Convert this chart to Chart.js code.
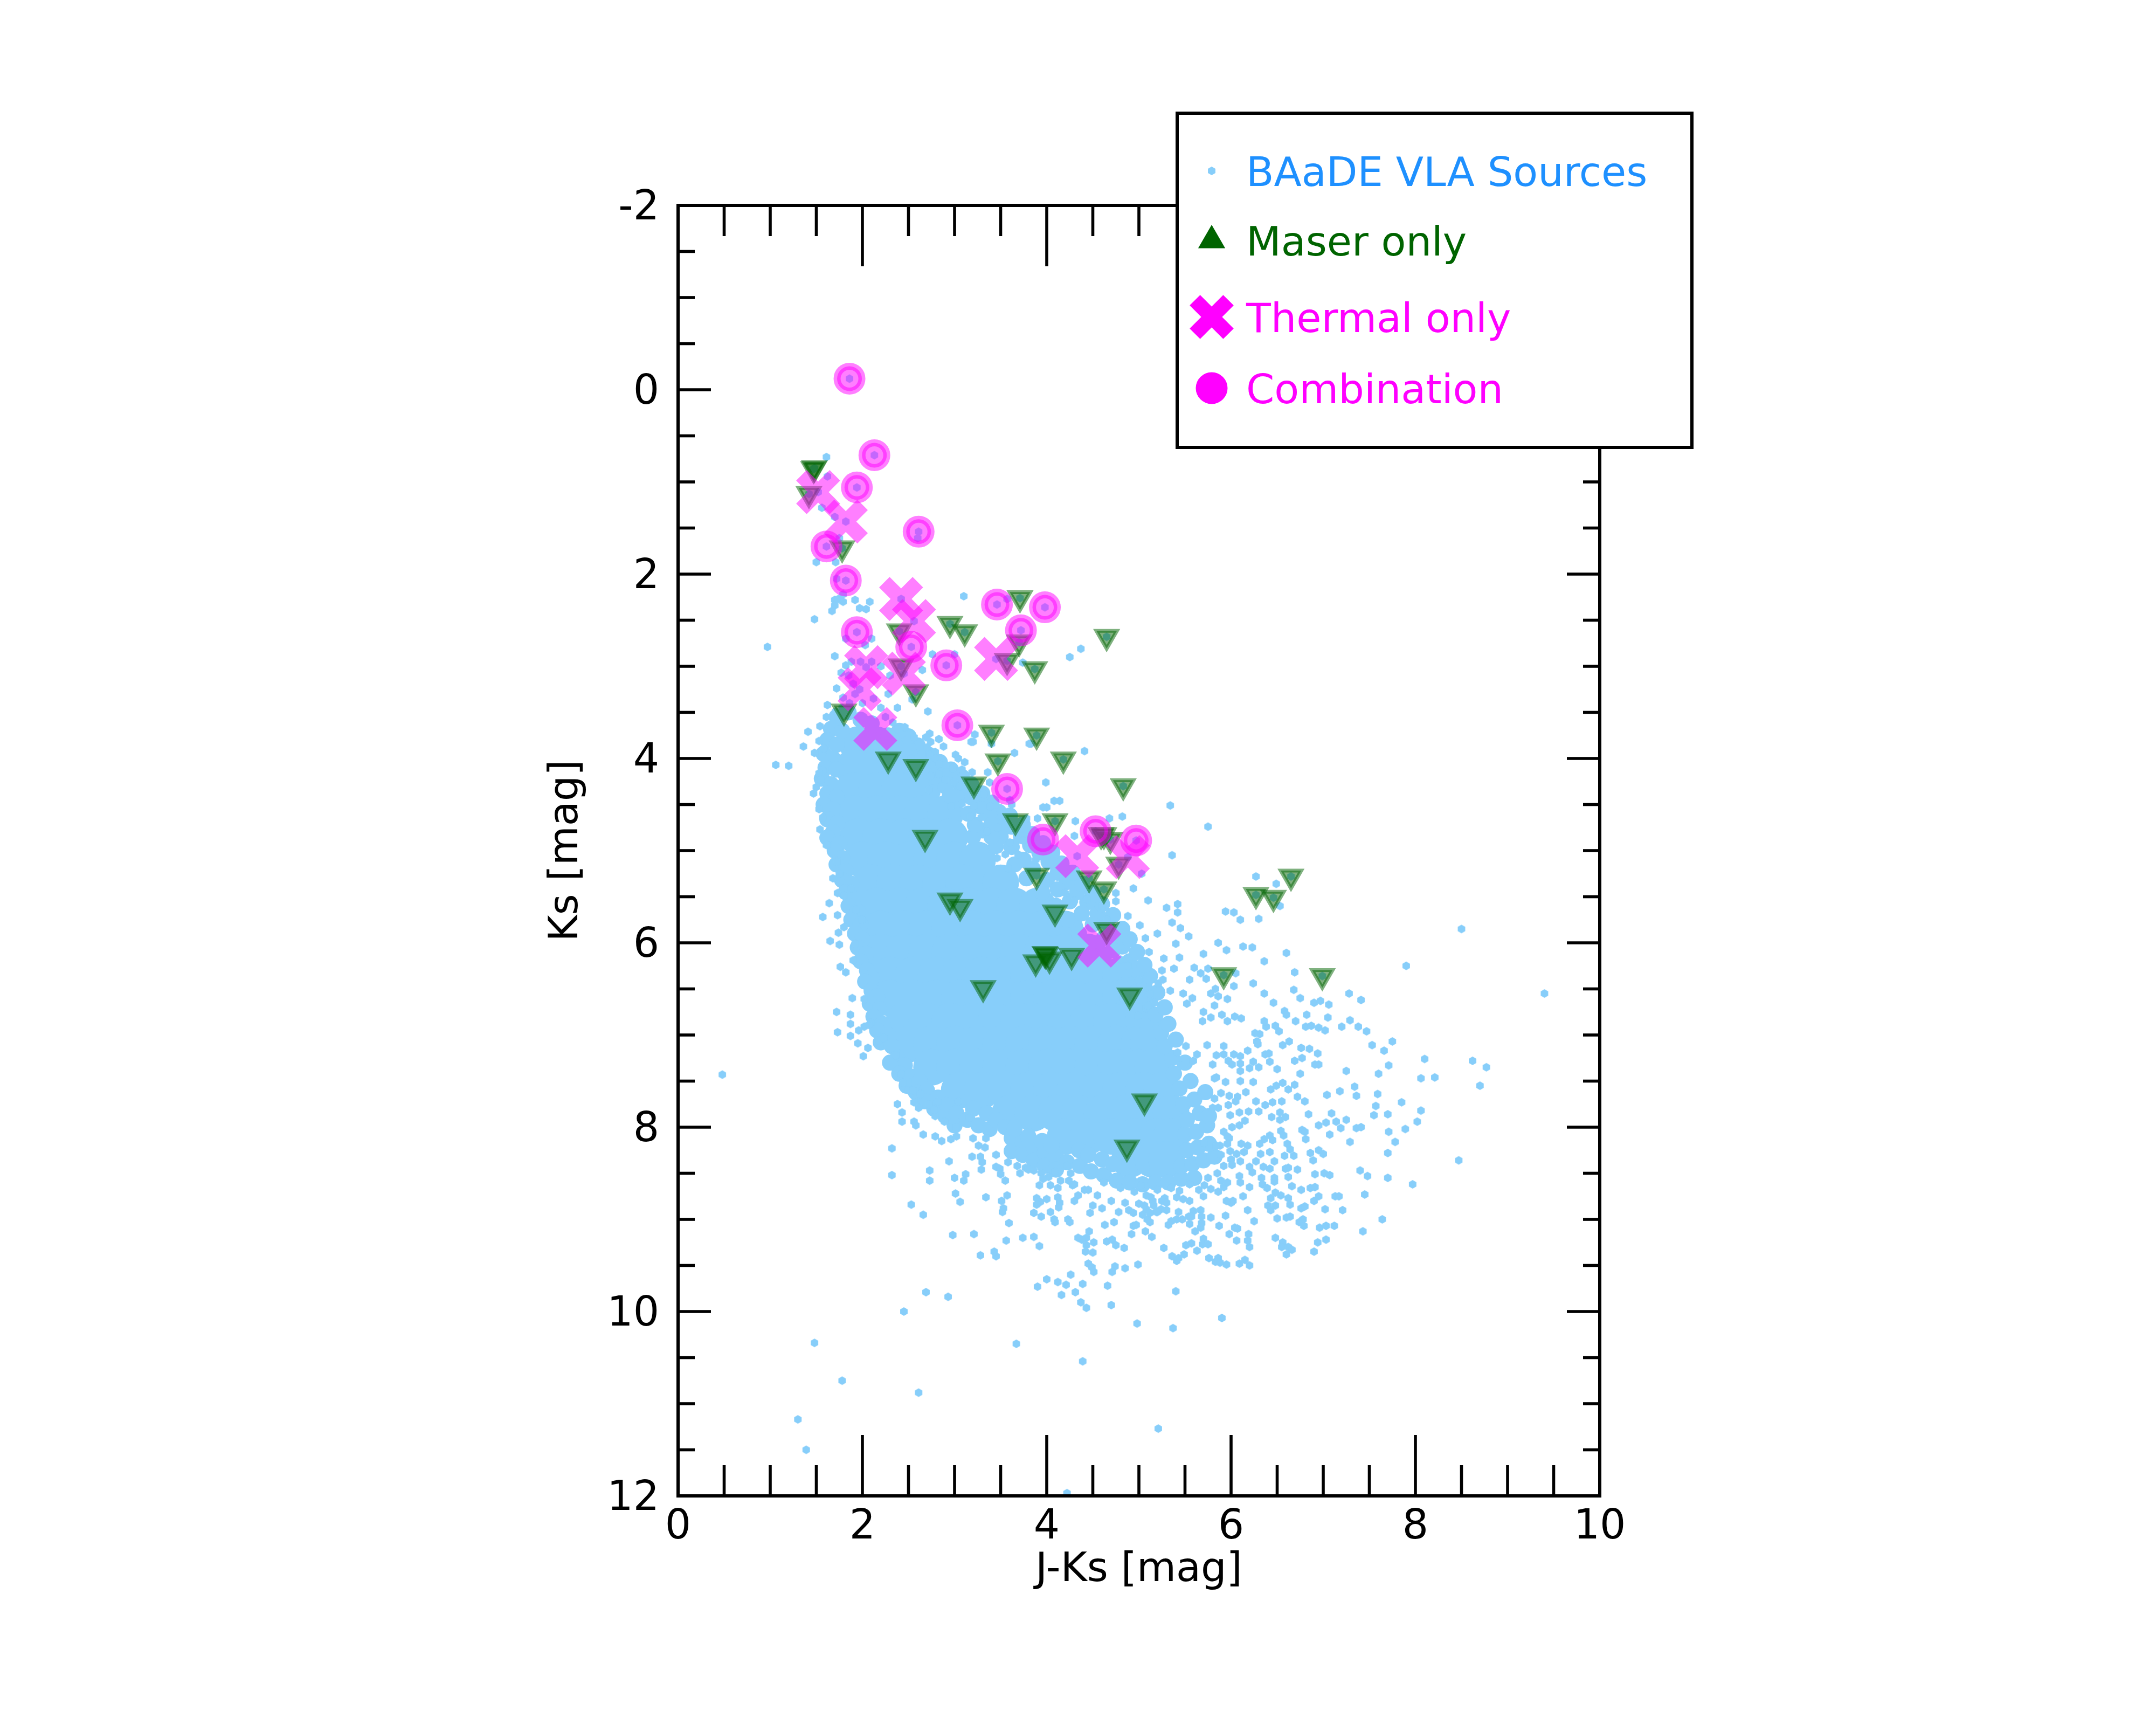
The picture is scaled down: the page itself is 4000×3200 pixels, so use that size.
<!DOCTYPE html>
<html>
<head>
<meta charset="utf-8">
<title>BAaDE colour-magnitude diagram</title>
<script src="https://cdn.jsdelivr.net/npm/chart.js@4/dist/chart.umd.js"></script>
<style>
  html, body { margin: 0; padding: 0; background: #fff; }
  canvas { display: block; }
</style>
</head>
<body>
<canvas id="cmd" width="4000" height="3200"></canvas>
<script>
const xLabelTitle = "J-Ks [mag]";
const yLabelTitle = "Ks [mag]";
const legendLabels = ["BAaDE VLA Sources", "Maser only", "Thermal only", "Combination"];

const xMajorTicks = [2, 4, 6, 8];
const xMinorTicks = [0.5, 1, 1.5, 2.5, 3, 3.5, 4.5, 5, 5.5, 6.5, 7, 7.5, 8.5, 9, 9.5];
const yMajorTicks = [0, 2, 4, 6, 8, 10];
const yMinorTicks = [-1.5, -1, -0.5, 0.5, 1, 1.5, 2.5, 3, 3.5, 4.5, 5, 5.5, 6.5, 7, 7.5, 8.5, 9, 9.5, 10.5, 11, 11.5];
const yTickLabels = [-2, 0, 2, 4, 6, 8, 10, 12];

const maser = [[1.47,.86],[1.48,.85],[1.42,1.13],[1.78,1.72],[2.95,2.54],[3.11,2.63],[2.4,2.62],[4.65,2.68],[3.71,2.26],[3.7,2.74],[3.57,2.94],[3.87,3.03],[2.42,3],[2.58,3.28],[1.8,3.49],[2.28,4.01],[2.58,4.09],[3.4,3.72],[3.89,3.75],[3.47,4.03],[4.18,4.01],[3.21,4.28],[4.83,4.3],[3.66,4.68],[4.09,4.68],[2.68,4.86],[4.59,4.83],[4.62,4.83],[4.69,4.88],[4.78,5.15],[3.89,5.27],[4.46,5.3],[4.62,5.42],[6.65,5.28],[6.27,5.48],[6.46,5.51],[2.95,5.54],[3.06,5.61],[4.09,5.67],[4.65,5.86],[3.88,6.21],[3.98,6.12],[3.99,6.13],[4.03,6.18],[4.27,6.14],[5.92,6.35],[6.99,6.36],[3.31,6.49],[4.9,6.57],[5.06,7.72],[4.87,8.22]];
const thermal = [[1.52,1.11],[1.82,1.43],[2.42,2.27],[2.56,2.51],[3.45,2.92],[2.04,3.01],[2.45,3.08],[1.97,3.25],[2.14,3.68],[4.33,5.06],[4.88,5.07],[4.57,6.03]];
const combination = [[1.86,-.12],[2.13,.71],[1.94,1.06],[2.61,1.54],[1.61,1.7],[1.82,2.07],[3.46,2.33],[3.98,2.36],[1.94,2.63],[3.72,2.61],[2.53,2.79],[2.91,2.99],[3.03,3.64],[3.57,4.33],[3.96,4.88],[4.53,4.79],[4.97,4.89]];

// upper giant branch and the stragglers around it
const sourcesUpper = [[1.61,.73],[1.62,.94],[1.56,1.28],[1.7,1.38],[1.5,1.87],[1.71,1.87],[1.72,2.05],[1.7,2.28],[1.7,2.34],[1.79,2.3],[1.92,2.28],[1.97,2.37],[2.04,2.38],[1.67,2.4],[1.48,2.49],[2.6,1.61],[3.1,2.24],[3.57,2.27],[1.75,1.61],[.97,2.79],[1.74,2.27],[1.79,2.22],[2.08,2.3],[2.1,2.7],[1.82,2.7],[2.03,2.77],[1.7,2.89],[1.82,2.99],[1.77,3.07],[1.9,3.19],[1.72,3.24],[1.79,3.34],[2.76,2.87],[3,2.87],[2.65,3.04],[2.54,3.36],[2.71,3.49],[2.38,3.45],[4.37,2.81],[4.25,2.9],[3.74,2.96],[2.46,3.66],[2.56,3.77],[2.38,3.68],[2.33,3.61],[2.73,3.73],[2.83,3.79],[2.7,3.88],[3.18,3.82],[3.22,3.74],[3.81,3.84],[3.65,3.94],[4.41,3.92],[3.99,4.26],[5.34,4.51],[5.75,4.74],[4.82,4.63],[5.36,5.05],[4.94,5.41],[5.03,5.25],[5.1,5.54],[1.85,3.1],[1.92,3.3],[2,3.4],[2.12,3.35],[2.2,3.45],[1.86,3.4],[1.78,3.45],[2.28,3.3],[2.3,3.1],[2.2,3],[1.98,2.95],[2.1,2.95],[1.88,2.95],[2.25,3.55]];
// left edge of the cloud
const sourcesLeft = [[1.2,4.08],[1.06,4.07],[1.36,3.87],[1.48,3.94],[1.41,3.71],[1.54,3.65],[1.61,3.55],[1.71,3.49],[1.75,3.6],[1.62,3.42],[1.53,3.81],[1.58,3.89],[1.57,4.13],[1.53,4.16],[1.5,4.31],[1.47,4.38],[1.55,4.23],[1.53,4.55],[1.57,4.64],[1.54,4.77],[1.61,4.94],[1.72,5.12],[1.75,5.25],[1.68,5.3],[1.73,5.46],[1.64,5.57],[1.57,5.72],[1.73,5.7],[1.8,5.83],[1.74,5.89],[1.65,5.98],[1.75,6.02],[1.92,6.01],[1.76,6.26],[1.82,6.32],[1.9,6.19],[1.89,6.6],[1.72,6.75],[1.87,6.78],[1.87,6.88],[2.02,6.91],[2.09,6.87],[1.73,6.97],[1.87,7.01],[1.95,7.09],[2.06,7.14],[1.96,6.95],[2.18,7.06],[1.8,5.49],[1.88,5.41],[1.93,5.64],[1.99,5.75],[2.02,6.61],[2.07,6.69]];
// top right edge of the cloud
const sourcesEdge = [[2.74,3.82],[2.69,3.77],[2.79,3.93],[2.88,3.87],[2.73,3.96],[2.68,4.05],[2.53,4],[2.79,4],[3.01,3.96],[3.04,4],[3.11,4.04],[3.08,4.12],[2.98,4.11],[2.9,4.07],[2.83,4.06],[2.74,4.19],[2.83,4.17],[2.9,4.23],[2.72,4.34],[3,4.26],[3.06,4.3],[3.19,4.15],[3.36,4.15],[3.38,4.26],[3.32,4.39],[3.39,4.52],[3.08,4.49],[3.21,4.51],[2.96,4.52],[3.29,4.64],[3.17,4.63],[3.83,3.84],[3.2,3.82],[3.4,3.84],[4.14,4.46],[4.08,4.46],[4,4.53],[3.96,4.53],[3.62,4.5],[3.6,4.45],[3.78,4.65],[3.9,4.65],[4.31,4.68],[4.68,4.65],[4.3,4.84],[4.75,5.46],[4.75,5.55],[4.88,5.71],[5.01,5.81],[4.44,5.53],[4.6,5.6],[4.65,5.75],[3.69,5.04],[3.8,4.97],[3.88,5.1],[3.55,5.04],[3.46,5.08],[3.58,5.19],[3.99,5.35],[4.2,5.46],[4.1,5.55],[4.3,5.54],[3.74,4.89],[3.6,4.91],[3.47,4.75],[3.35,4.79],[5.21,6.44],[5.12,6.56],[4.95,6.5],[4.83,6.6],[5.08,6.71],[5.17,6.65],[4.99,6.79],[5.1,6.68],[4.88,6.25],[5,6.4],[4.8,6.18]];
// lower edge, read from the bottom left of the cloud
const sourcesLower = [[2.01,7.23],[2.23,7.03],[2.07,6.89],[2.36,7.22],[2.42,7.42],[2.44,7.52],[2.5,7.6],[2.55,7.6],[2.63,7.64],[2.56,7.73],[2.61,7.79],[2.72,7.75],[2.38,7.75],[2.43,7.84],[2.43,7.94],[2.56,7.94],[2.58,7.98],[2.66,8.08],[2.79,8.1],[2.86,8.15],[2.96,8.13],[3.02,8.1],[3.02,8],[2.89,7.94],[2.79,7.88],[2.78,7.81],[2.82,7.72],[3.04,7.72],[3.16,7.9],[3.26,8.2],[3.34,8.12],[2.32,8.23],[2.94,8.37],[3.19,8.32],[3.28,8.32],[3.3,8.38],[3.29,8.46],[3.45,8.43],[3.49,8.45],[3.5,8.51],[3.55,8.58],[3.12,8.51],[3.1,8.58],[3,8.55],[2.73,8.47],[2.73,8.58],[2.32,8.52],[3.01,8.72],[3.06,8.81],[3.34,8.76],[3.57,8.74],[3.51,8.8],[3.53,8.88],[3.52,8.92],[2.53,8.84],[2.66,8.95],[3.59,9.04],[3.21,9.16],[2.98,9.17],[3.56,9.23],[3.74,9.2],[3.86,9.19],[3.92,9.29],[3.45,9.4],[3.43,9.35],[3.28,9.39]];
const sourcesLowerMid = [[3.92,8.63],[3.86,8.47],[3.94,8.5],[4.02,8.54],[4.09,8.48],[3.71,8.5],[3.77,8.44],[4.22,8.42],[4.26,8.5],[4.24,8.58],[4.28,8.63],[4.34,8.74],[4.41,8.68],[4.04,8.63],[4.12,8.66],[4.12,8.76],[3.89,8.77],[3.93,8.81],[3.89,8.84],[4,8.78],[4.14,8.82],[4.13,8.87],[4.04,8.92],[3.86,8.93],[3.94,8.97],[4.08,9],[4.09,9.03],[4.23,9],[4.25,9.03],[4.47,8.93],[4.73,9.03],[4.63,9.06],[4.46,9.13],[4.43,9.2],[4.51,9.25],[4.65,9.24],[4.38,9.22],[4.34,9.2],[4.43,9.28],[4.42,9.35],[4.5,9.36],[4.71,9.22],[4.75,9.28],[4.84,9.31],[5.09,9],[4.94,9.07],[4.89,8.9],[4.92,9.16],[5.14,9.19],[4.45,9.48],[4.49,9.52],[4.74,9.51],[4.85,9.53],[4.99,9.49],[4.51,9.57],[4.71,9.57],[4.66,9.72],[4.26,9.6],[4.12,9.68],[4.31,9.79],[4.21,9.71],[4.39,9.7],[4.16,9.82],[4.43,9.96],[4.7,9.93],[4.37,9.9],[3.9,9.73],[4,9.65],[2.45,10],[2.69,9.79],[2.93,9.84],[4.98,10.13],[5.37,10.18],[5.9,10.07],[5.4,9.78]];
// just under the solid part of the cloud
const sourcesBottomEdge = [[3.2,8.12],[3.33,8.22],[3.45,8.3],[3.58,8.38],[3.68,8.42],[3.8,8.46],[3.96,8.56],[4.15,8.58],[4.3,8.62],[4.45,8.68],[4.55,8.74],[4.7,8.8],[4.85,8.82],[5,8.83],[5.15,8.8],[5.28,8.77],[5.41,8.76],[5.44,8.69],[5.02,8.63],[5.08,8.74],[5.13,8.76],[5.24,8.89],[5.19,8.92],[5.08,8.89],[5.04,8.95],[4.94,8.93],[4.97,9.06],[5.07,9.13],[5.12,9.03],[5.32,9.06],[5.35,9.02],[5.47,9],[5.54,8.97],[5.55,9.05],[5.59,8.91],[5.43,8.92],[5.75,8.55],[5.85,8.5],[5.92,8.42],[6,8.35],[5.88,8.2],[5.98,8.12],[4.6,8.88],[4.78,8.92],[4.5,8.85],[4.3,8.8],[4.62,8.6],[4.8,8.66],[4.95,8.7],[5.2,8.68],[5.35,8.66],[5.55,8.62],[5.65,8.68]];
// right hand wing of the cloud
const sourcesRight = [[5.74,7.11],[5.92,7.12],[5.63,7.21],[5.84,7.22],[5.92,7.21],[6.03,7.21],[6.1,7.23],[6.18,7.17],[5.97,7.28],[6.01,7.32],[6.1,7.31],[6.1,7.39],[6.24,7.29],[6.2,7.36],[6.3,7.35],[6.37,7.21],[6.41,7.2],[6.42,7.29],[6.5,7.37],[6.26,6.98],[6.31,6.99],[6.28,7.07],[6.29,7.1],[6.52,6.96],[6.56,7.11],[6.63,7.07],[6.76,7.14],[6.85,7.15],[6.94,7.2],[6.77,7.25],[6.69,7.28],[6.91,7.32],[6.95,7.32],[6.75,7.42],[7.25,7.39],[7.6,7.42],[7.71,7.33],[7.66,7.17],[7.53,7.11],[7.75,7.07],[7.47,6.96],[7.38,6.91],[7.2,6.91],[6.81,6.91],[6.87,6.9],[6.38,6.91],[8.1,7.26],[8.62,7.28],[8.77,7.35],[8.06,7.47],[8.21,7.46],[8.7,7.55],[7.34,7.56],[7.18,7.61],[7.04,7.65],[7.36,7.66],[7.59,7.64],[7.85,7.73],[7.57,7.77],[7.55,7.87],[7.7,7.86],[8.06,7.82],[8.02,7.94],[6.84,7.86],[7.09,7.85],[7.25,7.92],[7.14,7.94],[7.19,8.01],[7.03,7.95],[6.95,7.98],[7.41,8],[7.36,8.01],[7.71,8.05],[7.89,8.02],[7.78,8.16],[7.29,8.16],[7.07,8.08],[6.77,8.03],[6.8,8.05],[6.81,8.13],[6.54,8.04],[6.57,8.09],[6.42,8.09],[6.45,8.14],[6.36,8.13],[6.31,8.18],[6.61,8.18],[6.64,8.24],[6.86,8.28],[6.95,8.25],[7,8.29],[7.7,8.28],[8.47,8.36],[6.89,8.36],[6.68,8.31],[6.58,8.31],[6.47,8.37],[6.42,8.27],[6.32,8.29],[6.27,8.37],[6.35,8.43],[6.42,8.45],[6.62,8.44],[6.72,8.46],[6.59,8.45],[7.4,8.47],[7.48,8.53],[7.7,8.55],[7.97,8.62],[7.01,8.5],[7.07,8.52],[6.91,8.51],[6.62,8.54],[6.47,8.55],[6.47,8.59],[6.33,8.55],[6.34,8.62],[6.39,8.66],[6.66,8.64],[6.76,8.68],[6.86,8.66],[6.91,8.65],[7.45,8.73],[7.13,8.75],[7.17,8.75],[6.95,8.75],[6.9,8.8],[6.48,8.71],[6.54,8.74],[6.62,8.77],[6.64,8.84],[6.43,8.77],[7.21,8.9],[7.02,8.89],[6.76,8.88],[6.8,8.86],[6.48,8.85],[6.4,8.85],[6.43,8.9],[6.5,8.99],[6.6,8.98],[6.64,8.97],[6.78,9],[6.74,9.03],[6.79,9.07],[6.96,9.09],[7.03,9.07],[7.12,9.07],[7.64,9],[7.43,9.13],[6.94,9.25],[7.03,9.22],[6.9,9.35],[6.48,9.2],[6.56,9.25],[6.55,9.3],[6.6,9.38],[6.62,9.3],[6.66,9.33],[6.2,9.5],[6.09,9.48],[6.15,9.44],[6.2,9.3],[6.18,9.23],[5.98,9.16],[6.19,9.16],[6.06,9.23],[6.04,9.09],[6.07,9.1],[5.7,9.21],[5.69,9.27],[5.63,9.34],[5.57,9.26],[5.51,9.28],[5.49,9.38],[5.43,9.42],[5.36,9.4],[5.27,9.31],[5.41,9.45],[5.76,9.42],[5.86,9.42],[5.83,9.46],[5.88,9.47],[5.95,9.49],[5.75,9.27],[5.67,9.09],[5.61,9.13],[5.68,9.04],[5.57,8.97],[5.41,9],[5.3,8.9],[5.67,8.9],[5.68,8.97],[5.78,8.98],[5.87,9.07],[5.94,8.96],[5.7,8.75],[5.86,8.7],[5.78,8.67],[5.71,8.63],[5.89,8.58],[5.92,8.65],[6.1,8.6],[6.2,8.65],[6.13,8.75],[6.02,8.8],[6,8.82],[5.95,8.8],[6.18,8.9],[6.25,9.02]];
// the middle band of the right wing and the far outliers
const sourcesMiddle = [[5.82,7.47],[5.94,7.51],[6.1,7.5],[6.24,7.51],[6.16,7.62],[6.07,7.67],[5.98,7.66],[5.89,7.63],[5.82,7.69],[6.27,7.72],[6.43,7.59],[6.49,7.55],[6.56,7.52],[6.62,7.59],[6.69,7.54],[6.72,7.67],[6.8,7.72],[6.55,7.72],[6.45,7.73],[6.44,7.89],[6.53,7.92],[6.59,7.89],[6.53,7.84],[6.37,7.76],[6.3,7.83],[6.19,7.83],[6.09,7.84],[5.99,7.87],[5.86,7.79],[5.8,7.79],[5.97,7.76],[6.05,7.72],[6.15,7.93],[6.09,7.98],[6.01,8],[5.92,8.05],[5.96,8.1],[5.96,8.18],[5.84,8.2],[5.71,8.17],[6.11,8.18],[6.18,8.2],[6.14,8.27],[6.06,8.29],[5.99,8.26],[5.89,8.3],[6.1,8.37],[6.01,8.41],[6.2,8.43],[6.23,8.49],[6.09,8.53],[5.96,8.6],[5.84,7.46],[5.8,7.32],[5.42,7.19],[5.51,7.12],[5.59,7.28],[5.45,7.33],[5.25,8.8],[5.16,8.85],[5.3,8.82],[5.48,8.78],[5.2,8.92],[5.06,8.85],[5.12,8.93],[5.55,8.8]];
const sourcesFar = [[.48,7.43],[1.48,10.34],[1.78,10.75],[2.61,10.88],[4.39,10.54],[5.21,11.27],[3.67,10.35],[1.3,11.17],[1.39,11.5],[4.22,11.97],[8.5,5.85],[9.4,6.55],[7.9,6.25],[6.03,5.67],[6.1,5.75],[5.94,5.66],[6.27,5.28],[6.3,5.74],[6.49,5.36],[6.53,5.6],[5.95,6.08],[6.13,6.04],[6.6,6.11],[6.69,6.32],[7.28,6.55],[7.41,6.62],[7.06,6.67],[6.24,6.44],[6.36,6.55],[6.03,6.47],[6.23,6.05],[6.36,6.2],[6.05,6.33],[6.46,6.65],[6.58,6.74],[6.11,6.82],[6.04,6.8],[5.9,6.78],[5.96,6.61],[5.78,6.55],[5.86,6.58],[5.83,6.5],[5.73,6.39],[5.75,6.28],[5.67,6.33],[5.86,6],[5.7,6.12],[5.6,6.27],[5.55,6.4],[5.44,6.16],[5.4,6.01],[5.38,6.28],[5.26,6.4],[5.25,6.3],[5.48,6.55],[5.58,6.6],[5.7,6.75],[5.69,6.85],[5.52,6.66],[5.34,6.52],[5.82,6.68],[5.78,6.81],[5.96,6.85],[6.68,6.51],[6.75,6.6],[6.9,6.65],[6.97,6.63],[6.36,6.85],[6.48,6.9],[6.6,6.78],[6.7,6.85],[6.82,6.78],[7.05,6.81],[7.29,6.84],[6.95,6.92],[7.02,6.95],[5.42,5.58],[5.42,5.67],[5.3,5.62],[5.36,5.78],[5.45,5.84],[5.54,5.93],[5.2,5.9],[5.07,5.95],[5.11,6.1],[5.27,6.17]];

// The dense middle of the cloud overlaps into a solid mass where single dots cannot be read,
// so core and fringe are bigger dots of the same colour covering that area, not individual sources.
const fringe = [[1.72,3.55],[1.85,3.5],[1.98,3.58],[2.1,3.62],[1.66,3.68],[1.78,3.7],[1.62,3.8],[1.72,3.85],[2.28,3.75],[2.4,3.82],[2.32,3.92],[1.58,3.95],[1.68,4],[1.6,4.1],[1.72,4.12],[1.56,4.22],[1.66,4.28],[1.62,4.38],[1.72,4.42],[1.58,4.5],[1.68,4.55],[1.62,4.66],[1.73,4.7],[1.68,4.8],[1.62,4.86],[1.75,4.92],[1.7,5],[1.78,5.08],[1.72,5.15],[1.82,5.22],[1.78,5.32],[1.88,5.36],[1.82,5.45],[1.9,5.52],[1.85,5.6],[1.95,5.66],[1.88,5.75],[1.98,5.8],[1.92,5.9],[2,5.96],[1.95,6.05],[2.04,6.12],[1.98,6.2],[2.05,6.3],[2.1,6.38],[2.03,6.42],[2.1,6.52],[2.16,6.58],[2.08,6.66],[2.18,6.72],[2.12,6.8],[2.22,6.88],[2.16,6.95],[2.28,7],[2.2,7.08],[2.32,7.12],[2.38,7.25],[2.3,7.3],[2.46,7.33],[2.4,7.42],[2.52,7.45],[2.48,7.55],[2.62,7.5],[2.58,7.62],[2.7,7.6],[2.68,7.72],[2.82,7.68],[2.78,7.8],[2.92,7.76],
  [2.9,7.88],[3.02,7.85],[3,7.98],[3.14,7.92],[3.26,7.98],[3.38,8.02],[3.62,8.12],[3.62,8.26],[3.74,8.16],[3.74,8.3],[3.86,8.22],[3.86,8.36],[3.98,8.28],[3.98,8.42],[4.1,8.32],[4.1,8.46],[4.22,8.38],[4.36,8.42],[4.48,8.48],[4.62,8.52],[4.76,8.58],[4.9,8.6],[5.04,8.62],[5.18,8.6],[5.32,8.6],[5.46,8.56],[5.6,8.55],[5.46,8.42],[5.58,8.4],[5.7,8.36],[5.82,8.32],[5.52,8.25],[5.64,8.22],[5.76,8.18],[5.5,8.08],[5.62,8.05],[5.74,7.98],[5.52,7.92],[5.66,7.85],[5.76,7.88],[5.48,7.75],[5.6,7.7],[5.72,7.62],[5.44,7.58],[5.56,7.5],[5.38,7.42],[5.5,7.3],
  [3.2,7.8],[3.35,7.85],[3.45,7.92],[3.55,8],[3.65,8.02],[3.8,8.1],[3.95,8.15],[4.05,8.2],[4.35,8.25],[4.45,8.3],[4.6,8.35],[4.72,8.4],
  [5.36,7.25],[5.28,7.12],[5.4,7.05],[5.24,6.98],[5.32,6.88],[5.18,6.78],[5.28,6.7],[5.12,6.62],[5.2,6.54],[5.06,6.46],[5.12,6.36],[4.98,6.3],[5.06,6.24],[4.9,6.2],[4.98,6.1],[4.82,6.04],[4.9,5.96],[4.74,5.92],[4.82,5.85],[4.65,5.78],[4.72,5.7],[4.55,5.68],[4.6,5.58],[4.44,5.56],[4.5,5.46],[4.33,5.45],[4.38,5.36],[4.22,5.34],[4.28,5.24],[4.12,5.24],[4.16,5.14],[4.02,5.12],[4.06,5.02],[3.92,5.02],[3.96,4.92],[3.82,4.94],[3.84,4.82],[3.72,4.84],[3.74,4.72],[3.62,4.74],[3.6,4.62],[3.5,4.7],[3.48,4.58],[3.38,4.62],[3.4,4.48],[3.28,4.52],[3.3,4.38],[3.18,4.42],[3.18,4.28],[3.08,4.34],[3.08,4.2],[2.98,4.24],[2.96,4.12],[2.86,4.16],[2.84,4.04],[2.74,4.08],[2.72,3.96],[2.62,3.98],[2.6,3.86],[2.5,3.9],[2.5,3.76],[2.4,3.7],
  [3.02,4.42],[2.9,4.3],[3.15,4.6],[3.3,4.78],[3.5,4.85],[3.62,4.96],[3.75,5.1],[3.85,5.2],[4,5.32],[4.12,5.42],[4.25,5.55],[4.38,5.68],[4.5,5.8],[4.62,5.95],[4.72,6.08],[4.85,6.3],[3.45,4.95],[3.65,5.15],[3.78,5.3],[3.95,5.45],[4.1,5.6],[4.22,5.75],[4.35,5.9],[4.48,6],[4.62,6.15],[2.78,4.2],[2.65,4.1],[2.55,4],[2.95,4.4],[2.68,3.98],[3.4,4.85],[3.2,4.85],[3.4,4.72],[3.22,4.72]];
const coreX = [1.95,2.15, 1.9,2.15,2.4, 1.9,2.15,2.4,2.65, 1.9,2.15,2.4,2.65,2.9, 1.95,2.2,2.45,2.7,2.95, 2,2.25,2.5,2.75,3,3.25, 2.1,2.35,2.6,2.85,3.1,3.35,3.5, 2.15,2.4,2.65,2.9,3.15,3.4,3.65,3.9, 2.2,2.45,2.7,2.95,3.2,3.45,3.7,3.95,4.2, 2.2,2.45,2.7,2.95,3.2,3.45,3.7,3.95,4.2,4.45, 2.3,2.55,2.8,3.05,3.3,3.55,3.8,4.05,4.3,4.55,4.8, 2.3,2.55,2.8,3.05,3.3,3.55,3.8,4.05,4.3,4.55,4.8,4.95, 2.45,2.7,2.95,3.2,3.45,3.7,3.95,4.2,4.45,4.7,4.95,5.05, 2.5,2.75,3,3.25,3.5,3.75,4,4.25,4.5,4.75,5,5.1, 2.75,3,3.25,3.5,3.75,4,4.25,4.5,4.75,5,5.15, 3.05,3.3,3.55,3.8,4.05,4.3,4.55,4.8,5.05,5.25, 3.6,3.85,4.1,4.35,4.6,4.85,5.1,5.35, 4.2,4.45,4.7,4.95,5.2,5.35, 4.9,5.15,5.3];
const coreY = [3.85,3.85, 4.1,4.1,4.1, 4.35,4.35,4.35,4.35, 4.6,4.6,4.6,4.6,4.6, 4.85,4.85,4.85,4.85,4.85, 5.1,5.1,5.1,5.1,5.1,5.1, 5.35,5.35,5.35,5.35,5.35,5.35,5.35, 5.6,5.6,5.6,5.6,5.6,5.6,5.6,5.6, 5.85,5.85,5.85,5.85,5.85,5.85,5.85,5.85,5.85, 6.1,6.1,6.1,6.1,6.1,6.1,6.1,6.1,6.1,6.1, 6.35,6.35,6.35,6.35,6.35,6.35,6.35,6.35,6.35,6.35,6.35, 6.6,6.6,6.6,6.6,6.6,6.6,6.6,6.6,6.6,6.6,6.6,6.6, 6.85,6.85,6.85,6.85,6.85,6.85,6.85,6.85,6.85,6.85,6.85,6.85, 7.1,7.1,7.1,7.1,7.1,7.1,7.1,7.1,7.1,7.1,7.1,7.1, 7.35,7.35,7.35,7.35,7.35,7.35,7.35,7.35,7.35,7.35,7.35, 7.6,7.6,7.6,7.6,7.6,7.6,7.6,7.6,7.6,7.6, 7.85,7.85,7.85,7.85,7.85,7.85,7.85,7.85, 8.1,8.1,8.1,8.1,8.1,8.1, 8.35,8.35,8.35];

function toPoints(list) {
  return list.map(function (p) { return { x: p[0], y: p[1] }; });
}

// small hexagon dot, same as the reference marker
function makeHexagon(radius, color) {
  const size = Math.ceil(radius * 2) + 2;
  const c = document.createElement("canvas");
  c.width = size;
  c.height = size;
  const g = c.getContext("2d");
  g.fillStyle = color;
  g.beginPath();
  for (let i = 0; i < 6; i++) {
    const a = (Math.PI / 3) * i;
    const px = size / 2 + Math.sin(a) * radius;
    const py = size / 2 - Math.cos(a) * radius;
    if (i === 0) g.moveTo(px, py);
    else g.lineTo(px, py);
  }
  g.closePath();
  g.fill();
  return c;
}

const dotColor = "#87cefa";
const hexDot = makeHexagon(8, dotColor);
const fontName = "'DejaVu Sans'";

const sources = [].concat(sourcesUpper, sourcesLeft, sourcesEdge, sourcesLower, sourcesLowerMid, sourcesBottomEdge,
  sourcesRight, sourcesMiddle, sourcesFar, maser, thermal, combination);

// ticks, frame and y labels; chart.js has no minor ticks or top/right axis lines
const framePlugin = {
  id: "frame",
  afterDatasetsDraw(chart) {
    const ctx = chart.ctx;
    const a = chart.chartArea;
    const xs = chart.scales.x;
    const ys = chart.scales.y;
    ctx.save();
    ctx.strokeStyle = "#000";
    ctx.lineWidth = 5.6;
    function line(x1, y1, x2, y2) {
      ctx.beginPath();
      ctx.moveTo(x1, y1);
      ctx.lineTo(x2, y2);
      ctx.stroke();
    }
    xMinorTicks.forEach(function (v) {
      const p = xs.getPixelForValue(v);
      line(p, a.bottom, p, a.bottom - 57);
      line(p, a.top, p, a.top + 57);
    });
    xMajorTicks.forEach(function (v) {
      const p = xs.getPixelForValue(v);
      line(p, a.bottom, p, a.bottom - 113);
      line(p, a.top, p, a.top + 113);
    });
    yMinorTicks.forEach(function (v) {
      const p = ys.getPixelForValue(v);
      line(a.left, p, a.left + 31, p);
      line(a.right, p, a.right - 31, p);
    });
    yMajorTicks.forEach(function (v) {
      const p = ys.getPixelForValue(v);
      line(a.left, p, a.left + 61, p);
      line(a.right, p, a.right - 61, p);
    });
    ctx.lineWidth = 6;
    ctx.strokeRect(a.left, a.top, a.right - a.left, a.bottom - a.top);

    ctx.fillStyle = "#000";
    ctx.font = "76px " + fontName;
    ctx.textAlign = "right";
    ctx.textBaseline = "middle";
    yTickLabels.forEach(function (v) {
      ctx.fillText(String(v), a.left - 35, ys.getPixelForValue(v) + 6);
    });
    ctx.restore();
  },
};

// legend sits over the top right corner of the axes, with solid markers
const legendPlugin = {
  id: "boxLegend",
  afterDraw(chart) {
    const ctx = chart.ctx;
    const markerX = 2248;
    const textX = 2312;
    ctx.save();
    ctx.fillStyle = "#fff";
    ctx.fillRect(2184, 210, 955, 620);
    ctx.strokeStyle = "#000";
    ctx.lineWidth = 6;
    ctx.strokeRect(2184, 210, 955, 620);

    ctx.drawImage(hexDot, markerX - hexDot.width / 2, 317 - hexDot.height / 2);
    ctx.fillStyle = "#006400";
    ctx.strokeStyle = "#006400";
    Chart.helpers.drawPoint(ctx, { pointStyle: "triangle", radius: 29, rotation: 0, borderWidth: 0 }, markerX, 446);
    ctx.fillStyle = "#ff00ff";
    ctx.strokeStyle = "#ff00ff";
    ctx.lineWidth = 27.5;
    Chart.helpers.drawPoint(ctx, { pointStyle: "crossRot", radius: 44, rotation: 0, borderWidth: 27.5 }, markerX, 588);
    Chart.helpers.drawPoint(ctx, { pointStyle: "circle", radius: 29.5, rotation: 0, borderWidth: 0 }, markerX, 720);

    ctx.font = "75px " + fontName;
    ctx.textAlign = "left";
    ctx.textBaseline = "alphabetic";
    ctx.fillStyle = "#1e90ff";
    ctx.fillText(legendLabels[0], textX, 345);
    ctx.fillStyle = "#006400";
    ctx.fillText(legendLabels[1], textX, 474);
    ctx.fillStyle = "#ff00ff";
    ctx.fillText(legendLabels[2], textX, 616);
    ctx.fillText(legendLabels[3], textX, 748);
    ctx.restore();
  },
};

new Chart(document.getElementById("cmd"), {
  type: "scatter",
  data: {
    datasets: [
      {
        label: "core",
        data: coreX.map(function (x, i) { return { x: x, y: coreY[i] }; }),
        order: 6,
        pointStyle: "circle",
        pointRadius: 34,
        pointBackgroundColor: dotColor,
        pointBorderWidth: 0,
      },
      {
        label: "fringe",
        data: toPoints(fringe),
        order: 5,
        pointStyle: "circle",
        pointRadius: 15,
        pointBackgroundColor: dotColor,
        pointBorderWidth: 0,
      },
      {
        label: legendLabels[0],
        data: toPoints(sources),
        order: 4,
        pointStyle: hexDot,
        pointRadius: 8,
      },
      {
        label: legendLabels[1],
        data: toPoints(maser),
        order: 3,
        pointStyle: "triangle",
        rotation: 180,
        pointRadius: 22,
        pointBackgroundColor: "rgba(0,100,0,0.5)",
        pointBorderColor: "rgba(0,100,0,0.5)",
        pointBorderWidth: 7,
      },
      {
        label: legendLabels[2],
        data: toPoints(thermal),
        order: 2,
        pointStyle: "crossRot",
        pointRadius: 44,
        pointBackgroundColor: "rgba(255,0,255,0.5)",
        pointBorderColor: "rgba(255,0,255,0.5)",
        pointBorderWidth: 27.5,
      },
      {
        label: legendLabels[3],
        data: toPoints(combination),
        order: 1,
        pointStyle: "circle",
        pointRadius: 23,
        pointBackgroundColor: "rgba(255,0,255,0.5)",
        pointBorderColor: "rgba(255,0,255,0.5)",
        pointBorderWidth: 13,
      },
    ],
  },
  options: {
    responsive: false,
    devicePixelRatio: 1,
    animation: false,
    layout: { padding: { left: 1007, right: 1032, top: 381, bottom: 241 } },
    plugins: { legend: { display: false }, tooltip: { enabled: false } },
    scales: {
      x: {
        type: "linear",
        min: 0,
        max: 10,
        grid: { display: false, drawTicks: false },
        border: { display: false },
        ticks: {
          stepSize: 2,
          padding: 14,
          maxRotation: 0,
          autoSkip: false,
          color: "#000",
          font: { family: fontName, size: 76 },
        },
        title: {
          display: true,
          text: xLabelTitle,
          color: "#000",
          padding: 0,
          font: { family: fontName, size: 75 },
        },
        afterFit(scale) { scale.height = 184; },
      },
      y: {
        type: "linear",
        reverse: true,
        min: -2,
        max: 12,
        grid: { display: false, drawTicks: false },
        border: { display: false },
        ticks: { stepSize: 2, display: false },
        title: {
          display: true,
          text: yLabelTitle,
          color: "#000",
          padding: 0,
          font: { family: fontName, size: 75 },
        },
        afterFit(scale) { scale.width = 251; },
      },
    },
  },
  plugins: [framePlugin, legendPlugin],
});
</script>
</body>
</html>
